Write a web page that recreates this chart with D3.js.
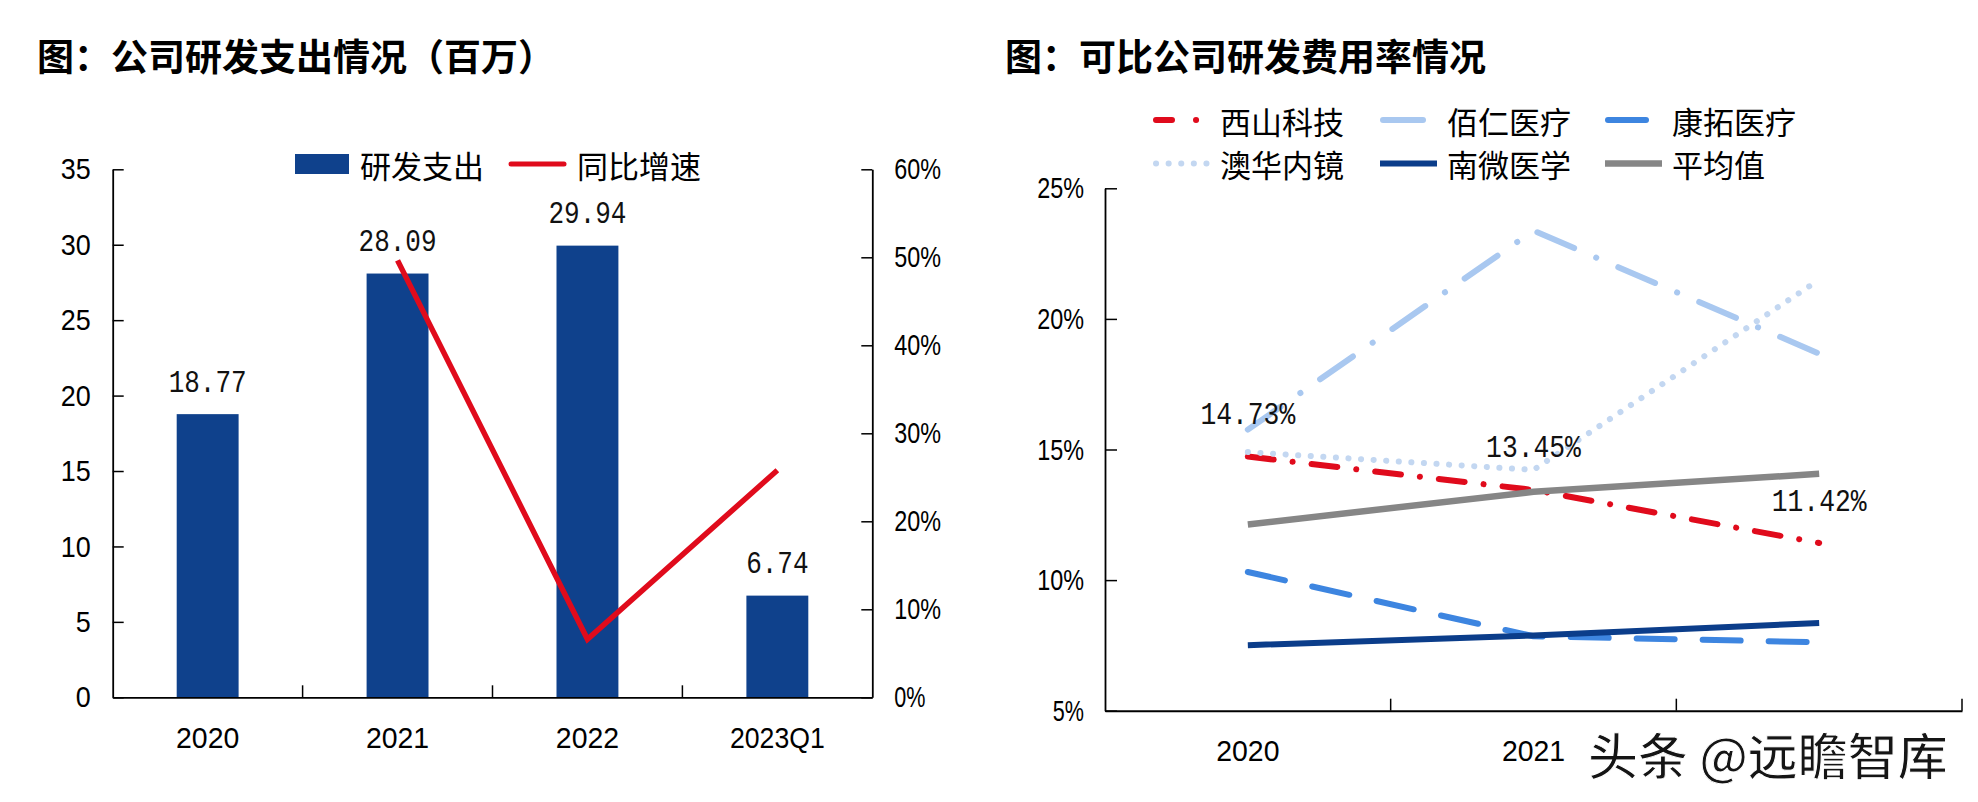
<!DOCTYPE html>
<html><head><meta charset="utf-8">
<script src="https://cdn.jsdelivr.net/npm/d3@7"></script>
<style>
html,body{margin:0;padding:0;background:#fff;}
svg{display:block;}
</style></head><body>
<svg id="c" width="1978" height="802"></svg>
<script>
// ---------- Left chart data ----------
const categoriesL = ["2020", "2021", "2022", "2023Q1"];
const rdSpend = [18.77, 28.09, 29.94, 6.74];
const rdGrowth = [null, 0.4965, 0.066, 0.258];
const leftTicks = [0, 5, 10, 15, 20, 25, 30, 35];
const rightTicks = [0, 0.1, 0.2, 0.3, 0.4, 0.5, 0.6];
const legendL = ["研发支出", "同比增速"];

// ---------- Right chart data ----------
const categoriesR = ["2020", "2021", "2022"];
const seriesNames = ["西山科技", "佰仁医疗", "康拓医疗", "澳华内镜", "南微医学", "平均值"];
const xishan = [0.1473, 0.1345, 0.1142];
const bairen = [0.1576, 0.2338, 0.1867];
const kangtuo = [0.1031, 0.0785, 0.0762];
const aohua = [0.1490, 0.1422, 0.2150];
const nanwei = [0.0751, 0.0788, 0.0836];
const average = [0.1213, 0.1338, 0.1407];
const pctTicks = [0.05, 0.10, 0.15, 0.20, 0.25];

const titleL = "图：公司研发支出情况（百万）";
const titleR = "图：可比公司研发费用率情况";
const watermark = "头条 @远瞻智库";

// ---------- styles ----------
const CJK = "'Noto Sans CJK SC','Noto Sans',sans-serif";
const NUM = "'Liberation Sans','Arial',sans-serif";
const MONO = "'Liberation Mono','DejaVu Sans Mono',monospace";
const NAVY = "#0F418C", RED = "#E00B1C";

const svg = d3.select("#c");

// narrow, tall numerals like the reference
function narrow(sel, perChar) {
  sel.each(function () {
    const t = d3.select(this), s = t.text();
    if (s) t.attr("textLength", s.length * perChar).attr("lengthAdjust", "spacingAndGlyphs");
  });
}

// Titles
svg.append("text").attr("x", 37).attr("y", 55).attr("dominant-baseline", "central")
  .style("font-family", CJK).style("font-weight", 700).style("font-size", "37px").text(titleL);
svg.append("text").attr("x", 1005).attr("y", 55).attr("dominant-baseline", "central")
  .style("font-family", CJK).style("font-weight", 700).style("font-size", "37px").text(titleR);

// ================= LEFT CHART =================
const L = {x0: 112.7, x1: 872.3, y0: 697.3, y1: 169.3};
const xL = d3.scaleBand().domain(categoriesL).range([L.x0, L.x1]).paddingInner(0.674).paddingOuter(0.337);
const yL = d3.scaleLinear().domain([0, 35]).range([L.y0, L.y1]);
const yL2 = d3.scaleLinear().domain([0, 0.6]).range([L.y0, L.y1]);
const gL = svg.append("g");

gL.selectAll("rect.bar").data(rdSpend).join("rect").attr("class", "bar")
  .attr("x", (d, i) => xL(categoriesL[i])).attr("width", xL.bandwidth())
  .attr("y", d => yL(d)).attr("height", d => L.y0 - yL(d)).attr("fill", NAVY);

gL.selectAll("text.val").data(rdSpend).join("text").attr("class", "val")
  .attr("x", (d, i) => xL(categoriesL[i]) + xL.bandwidth() / 2)
  .attr("y", d => yL(d) - 31).attr("text-anchor", "middle").attr("dominant-baseline", "central")
  .style("font-family", MONO).style("font-size", "31px").attr("fill", "#111")
  .text(d => d.toFixed(2)).call(narrow, 15.6);

// axes
function styleAxis(g, size, perChar) {
  g.select(".domain").attr("stroke", "#000").attr("stroke-width", 1.8);
  g.selectAll(".tick line").attr("stroke", "#000").attr("stroke-width", 1.5);
  g.selectAll(".tick text").style("font-family", NUM).style("font-size", size).attr("fill", "#000")
    .call(narrow, perChar);
}
const axL = svg.append("g").attr("transform", `translate(${L.x0},0)`)
  .call(d3.axisLeft(yL).tickValues(leftTicks).tickSizeInner(-11).tickSizeOuter(0).tickPadding(22));
styleAxis(axL, "30px", 15);
const axR = svg.append("g").attr("transform", `translate(${L.x1},0)`)
  .call(d3.axisRight(yL2).tickValues(rightTicks).tickSizeInner(-11).tickSizeOuter(0).tickPadding(22).tickFormat(d3.format(".0%")));
styleAxis(axR, "30px", 15.6);
const axB = svg.append("g").attr("transform", `translate(0,${L.y0})`)
  .call(d3.axisBottom(xL).tickSize(0).tickSizeOuter(0));
styleAxis(axB, "30px", 15.8);
axB.selectAll(".tick text").attr("y", 40).attr("dy", "0.35em");
const gapL = (xL.step() - xL.bandwidth()) / 2;
gL.selectAll("line.bt").data(categoriesL.slice(1)).join("line").attr("class", "bt")
  .attr("x1", d => xL(d) - gapL).attr("x2", d => xL(d) - gapL)
  .attr("y1", L.y0).attr("y2", L.y0 - 12).attr("stroke", "#000").attr("stroke-width", 1.5);

// growth line
const lineL = d3.line().defined(d => d != null)
  .x((d, i) => xL(categoriesL[i]) + xL.bandwidth() / 2).y(d => yL2(d));
svg.append("path").datum(rdGrowth).attr("d", lineL).attr("fill", "none")
  .attr("stroke", RED).attr("stroke-width", 5.5).attr("stroke-linejoin", "miter").attr("stroke-miterlimit", 10);

// left legend
svg.append("rect").attr("x", 295).attr("y", 154).attr("width", 54).attr("height", 20).attr("fill", NAVY);
svg.append("text").attr("x", 360).attr("y", 164).attr("dominant-baseline", "central")
  .style("font-family", CJK).style("font-size", "31px").text(legendL[0]);
svg.append("line").attr("x1", 511).attr("x2", 564).attr("y1", 164).attr("y2", 164)
  .attr("stroke", RED).attr("stroke-width", 5).attr("stroke-linecap", "round");
svg.append("text").attr("x", 577).attr("y", 164).attr("dominant-baseline", "central")
  .style("font-family", CJK).style("font-size", "31px").text(legendL[1]);

// ================= RIGHT CHART =================
const R = {x0: 1105, x1: 1962, y0: 710.7, y1: 188.3};
const xR = d3.scaleBand().domain(categoriesR).range([R.x0, R.x1]).padding(0);
const yR = d3.scaleLinear().domain([0.05, 0.25]).range([R.y0, R.y1]);
const cx = c => xR(c) + xR.bandwidth() / 2;

const ayR = svg.append("g").attr("transform", `translate(${R.x0},0)`)
  .call(d3.axisLeft(yR).tickValues(pctTicks).tickSizeInner(-12).tickSizeOuter(0).tickPadding(21).tickFormat(d3.format(".0%")));
styleAxis(ayR, "30px", 15.6);
const axRB = svg.append("g").attr("transform", `translate(0,${R.y0})`)
  .call(d3.axisBottom(xR).tickSize(0).tickSizeOuter(0).tickFormat(d => d === "2022" ? "" : d));
styleAxis(axRB, "30px", 15.8);
axRB.select(".domain").attr("stroke-width", 2);
axRB.selectAll(".tick text").attr("y", 40).attr("dy", "0.35em");
svg.selectAll("line.rbt").data(categoriesR.slice(1).map(c => xR(c)).concat([xR.range()[1]]))
  .join("line").attr("class", "rbt").attr("x1", d => d).attr("x2", d => d)
  .attr("y1", R.y0).attr("y2", R.y0 - 12).attr("stroke", "#000").attr("stroke-width", 1.5);

const seriesData = [xishan, bairen, kangtuo, aohua, nanwei, average];
const styles = [
  {color: "#E00B1C", w: 6, dash: "26,19,0.1,19", cap: "round", lgDash: "16,24,0.1,40"},
  {color: "#A9C8F0", w: 6, dash: "40,24,0.1,24", cap: "round"},
  {color: "#3D85E0", w: 6, dash: "38,28", cap: "round"},
  {color: "#C3D7F1", w: 6, dash: "0.1,12.5", cap: "round"},
  {color: "#0B3D8A", w: 6, dash: null, cap: "butt"},
  {color: "#868686", w: 6.5, dash: null, cap: "butt"}
];
const lineR = d3.line().x((d, i) => cx(categoriesR[i])).y(d => yR(d));
seriesData.forEach((s, k) => {
  const st = styles[k];
  svg.append("path").datum(s).attr("d", lineR).attr("fill", "none")
    .attr("stroke", st.color).attr("stroke-width", st.w)
    .attr("stroke-linecap", st.cap).attr("stroke-linejoin", "round")
    .attr("stroke-dasharray", st.dash);
});
// data labels for 西山科技
svg.selectAll("text.rl").data(xishan).join("text").attr("class", "rl")
  .attr("x", (d, i) => cx(categoriesR[i])).attr("y", d => yR(d) - 41)
  .attr("text-anchor", "middle").attr("dominant-baseline", "central")
  .style("font-family", MONO).style("font-size", "31px").attr("fill", "#111")
  .text(d => d3.format(".2%")(d)).call(narrow, 15.8);

// right legend
const lgCols = [1153, 1380, 1605], lgRows = [120, 163.5];
seriesNames.forEach((name, k) => {
  const x = lgCols[k % 3], y = lgRows[Math.floor(k / 3)], st = styles[k];
  const round = st.cap === "round";
  svg.append("line").attr("x1", round ? x + 3 : x).attr("x2", round ? x + 54 : x + 57)
    .attr("y1", y).attr("y2", y).attr("stroke", st.color).attr("stroke-width", st.w)
    .attr("stroke-linecap", st.cap).attr("stroke-dasharray", st.lgDash || st.dash);
  svg.append("text").attr("x", x + 67).attr("y", y).attr("dominant-baseline", "central")
    .style("font-family", CJK).style("font-size", "31px").text(name);
});

// watermark
svg.append("text").attr("x", 1588).attr("y", 753).attr("dominant-baseline", "central")
  .style("font-family", CJK).style("font-size", "50px").style("font-weight", 500)
  .attr("fill", "#151515").attr("stroke", "#fff").attr("stroke-width", 1)
  .text(watermark);
</script>
</body></html>
